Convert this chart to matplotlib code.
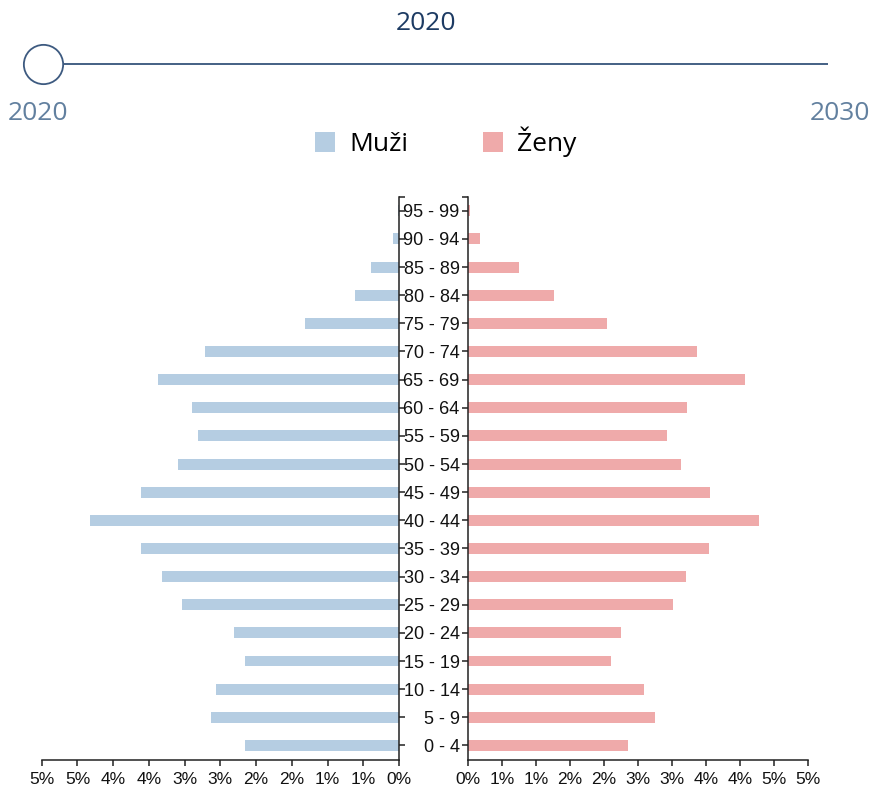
import numpy as np
import matplotlib.pyplot as plt

# --------------------------------------------------
# Data (percent of population, 2020)
# --------------------------------------------------

ages = ["0 - 4", "5 - 9", "10 - 14", "15 - 19", "20 - 24", "25 - 29", "30 - 34",
        "35 - 39", "40 - 44", "45 - 49", "50 - 54", "55 - 59", "60 - 64", "65 - 69",
        "70 - 74", "75 - 79", "80 - 84", "85 - 89", "90 - 94", "95 - 99"]

men = [2.15, 2.63, 2.56, 2.16, 2.31, 3.03, 3.31, 3.61, 4.32, 3.61,
       3.09, 2.81, 2.89, 3.37, 2.72, 1.32, 0.62, 0.39, 0.09, 0.01]

women = [2.35, 2.75, 2.59, 2.10, 2.25, 3.02, 3.20, 3.54, 4.27, 3.56,
         3.13, 2.92, 3.22, 4.07, 3.36, 2.04, 1.26, 0.75, 0.18, 0.04]

x_ticks = [0, 0.5, 1, 1.5, 2, 2.5, 3, 3.5, 4, 4.5, 5]
x_labels = ["0%", "1%", "1%", "2%", "2%", "3%", "3%", "4%", "4%", "5%", "5%"]

years = [2020, 2030]
current_year = 2020

c_men = "#b5cde2"
c_women = "#efaaaa"
c_axis = "#222222"

W, H = 872, 789


def box(x0, y0, x1, y1):
    # pixel box (top-left origin) -> figure fraction
    return [x0 / W, 1 - y1 / H, (x1 - x0) / W, (y1 - y0) / H]


fig = plt.figure(figsize=(W / 100, H / 100), dpi=100)

y = np.arange(len(ages)) + 0.5
bar_h = 0.39
tick_len = 6 * 0.72
lw = 1.1

# left side: men
ax_l = fig.add_axes(box(41.7, 196.7, 399, 759.5))
ax_l.barh(y, men, height=bar_h, color=c_men, label="Muži")
ax_l.set_xlim(5, 0)
ax_l.set_ylim(0, len(ages))
ax_l.spines[["top", "left"]].set_visible(False)
for s in ["right", "bottom"]:
    ax_l.spines[s].set_color(c_axis)
    ax_l.spines[s].set_linewidth(lw)
ax_l.yaxis.tick_right()
ax_l.set_yticks(y)
ax_l.set_yticks([len(ages)], minor=True)
ax_l.tick_params(axis="y", which="both", direction="out", length=tick_len, width=lw,
                 color=c_axis, labelright=False)

# right side: women
ax_r = fig.add_axes(box(467.7, 196.7, 808.3, 759.5))
ax_r.barh(y, women, height=bar_h, color=c_women, label="Ženy")
ax_r.set_xlim(0, 5)
ax_r.set_ylim(0, len(ages))
ax_r.spines[["top", "right"]].set_visible(False)
for s in ["left", "bottom"]:
    ax_r.spines[s].set_color(c_axis)
    ax_r.spines[s].set_linewidth(lw)
ax_r.set_yticks(y)
ax_r.set_yticklabels(ages)
ax_r.set_yticks([len(ages)], minor=True)
ax_r.tick_params(axis="y", which="both", direction="out", length=tick_len, width=lw,
                 color=c_axis, pad=1.5, labelsize=13)
for t in ax_r.get_yticklabels():
    t.set_fontfamily("Liberation Sans")
    t.set_color("#111111")

for ax in (ax_l, ax_r):
    ax.set_xticks(x_ticks)
    ax.set_xticklabels(x_labels, fontfamily="Liberation Sans", fontsize=12.5, color="#111111")
    ax.tick_params(axis="x", direction="out", length=tick_len, width=lw, color=c_axis, pad=4.5)

# slider
ax_s = fig.add_axes(box(43, 54, 828, 74))
ax_s.set_xlim(years[0], years[1])
ax_s.set_ylim(-1, 1)
ax_s.axis("off")
ax_s.plot(years, [0, 0], color="#24466f", lw=1.2, solid_capstyle="butt")
ax_s.scatter([current_year], [0], s=800, facecolor="white", edgecolor="#3d5a80",
             linewidth=1.3, zorder=3, clip_on=False)

fig.text(425.5 / W, 1 - 23 / H, str(current_year), ha="center", va="center",
         fontfamily="Open Sans", fontsize=19, color="#1d3b63")
fig.text(38 / W, 1 - 113 / H, str(years[0]), ha="center", va="center",
         fontfamily="Open Sans", fontsize=19, color="#62809f")
fig.text(840 / W, 1 - 113 / H, str(years[1]), ha="center", va="center",
         fontfamily="Open Sans", fontsize=19, color="#62809f")

fig.legend(loc="center", bbox_to_anchor=(446 / W, 1 - 142 / H), ncol=2, frameon=False,
           prop={"family": "Open Sans", "size": 19}, handlelength=0.76, handleheight=0.76,
           handletextpad=0.53, columnspacing=2.85, borderpad=0, borderaxespad=0)

fig.savefig("out.png", dpi=100)
